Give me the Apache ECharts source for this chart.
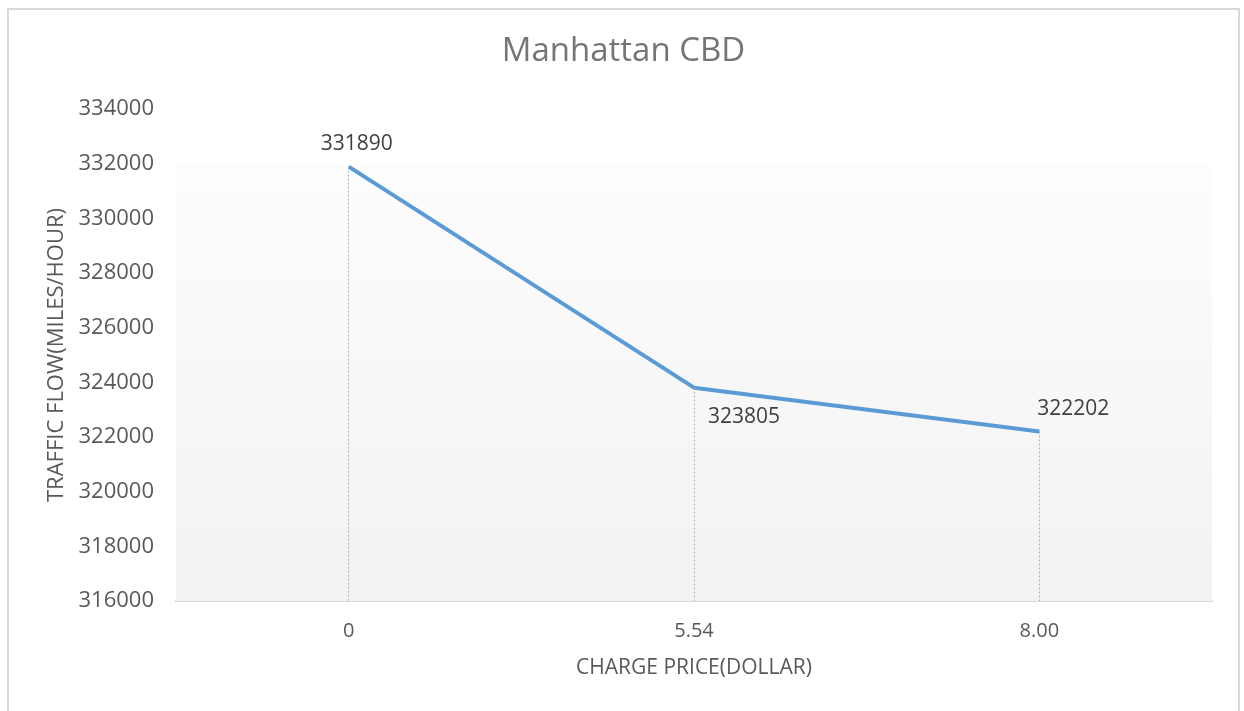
<!DOCTYPE html>
<html>
<head>
<meta charset="utf-8">
<style>
  html, body { margin: 0; padding: 0; background: #fff; }
  #app { position: absolute; left: 7px; top: 8px; width: 1233px; height: 710px; border: 2px solid #d9d9d9; box-sizing: border-box; }
</style>
<script src="https://cdn.jsdelivr.net/npm/echarts@6/dist/echarts.min.js"></script>
</head>
<body>
<div id="app"></div>
<script>
const prices = ['0', '5.54', '8.00'];
const traffic = [331890, 323805, 322202];
const labelPos = [[8, -6], [50, 46], [34, -6]];

const myChart = echarts.init(document.getElementById('app'));

const dropLines = prices.map((p, i) => [
    { coord: [p, traffic[i]] },
    { coord: [p, 316000] }
]);

const option = {
    animation: false,
    title: {
        text: 'Manhattan CBD',
        left: 'center',
        top: 20,
        textStyle: { fontFamily: 'Open Sans', fontSize: 33, fontWeight: 'normal', color: '#757575' }
    },
    grid: { left: 167, right: 26, top: 99, bottom: 115 },
    xAxis: {
        type: 'category',
        data: prices,
        name: 'CHARGE PRICE(DOLLAR)',
        nameLocation: 'middle',
        nameGap: 57,
        nameTextStyle: { fontFamily: 'Open Sans', fontSize: 21, color: '#595959' },
        axisLine: { lineStyle: { color: '#d9d9d9', width: 2 } },
        axisTick: { show: false },
        axisLabel: { fontFamily: 'Open Sans', fontSize: 20, color: '#595959', margin: 20 }
    },
    yAxis: {
        type: 'value',
        min: 316000,
        max: 334000,
        interval: 2000,
        name: 'TRAFFIC FLOW(MILES/HOUR)',
        nameLocation: 'middle',
        nameGap: 106,
        nameTextStyle: { fontFamily: 'Open Sans', fontSize: 22, color: '#595959' },
        axisLine: { show: false },
        axisTick: { show: false },
        splitLine: { show: false },
        axisLabel: {
            fontFamily: 'Open Sans', fontSize: 22, color: '#595959', margin: 22,
            formatter: v => String(v)
        }
    },
    series: [{
        type: 'line',
        data: traffic.map((v, i) => ({
            value: v,
            label: { offset: labelPos[i] }
        })),
        symbol: 'circle',
        symbolSize: 2,
        showSymbol: true,
        itemStyle: { color: 'rgba(91,155,213,0)' },
        lineStyle: { color: '#5b9bd5', width: 4 },
        label: {
            show: true,
            position: 'top',
            fontFamily: 'Open Sans',
            fontSize: 21,
            color: '#404040',
            formatter: p => String(p.value)
        },
        markLine: {
            silent: true,
            symbol: 'none',
            label: { show: false },
            lineStyle: { color: '#b0b0b0', type: [2, 2], width: 1 },
            data: dropLines
        },
        markArea: {
            silent: true,
            itemStyle: {
                color: new echarts.graphic.LinearGradient(0, 0, 0, 1, [
                    { offset: 0, color: '#fdfdfd' },
                    { offset: 1, color: '#f2f2f2' }
                ])
            },
            data: [[{ yAxis: 316000 }, { yAxis: 332000 }]]
        }
    }]
};

myChart.setOption(option);
</script>
</body>
</html>
